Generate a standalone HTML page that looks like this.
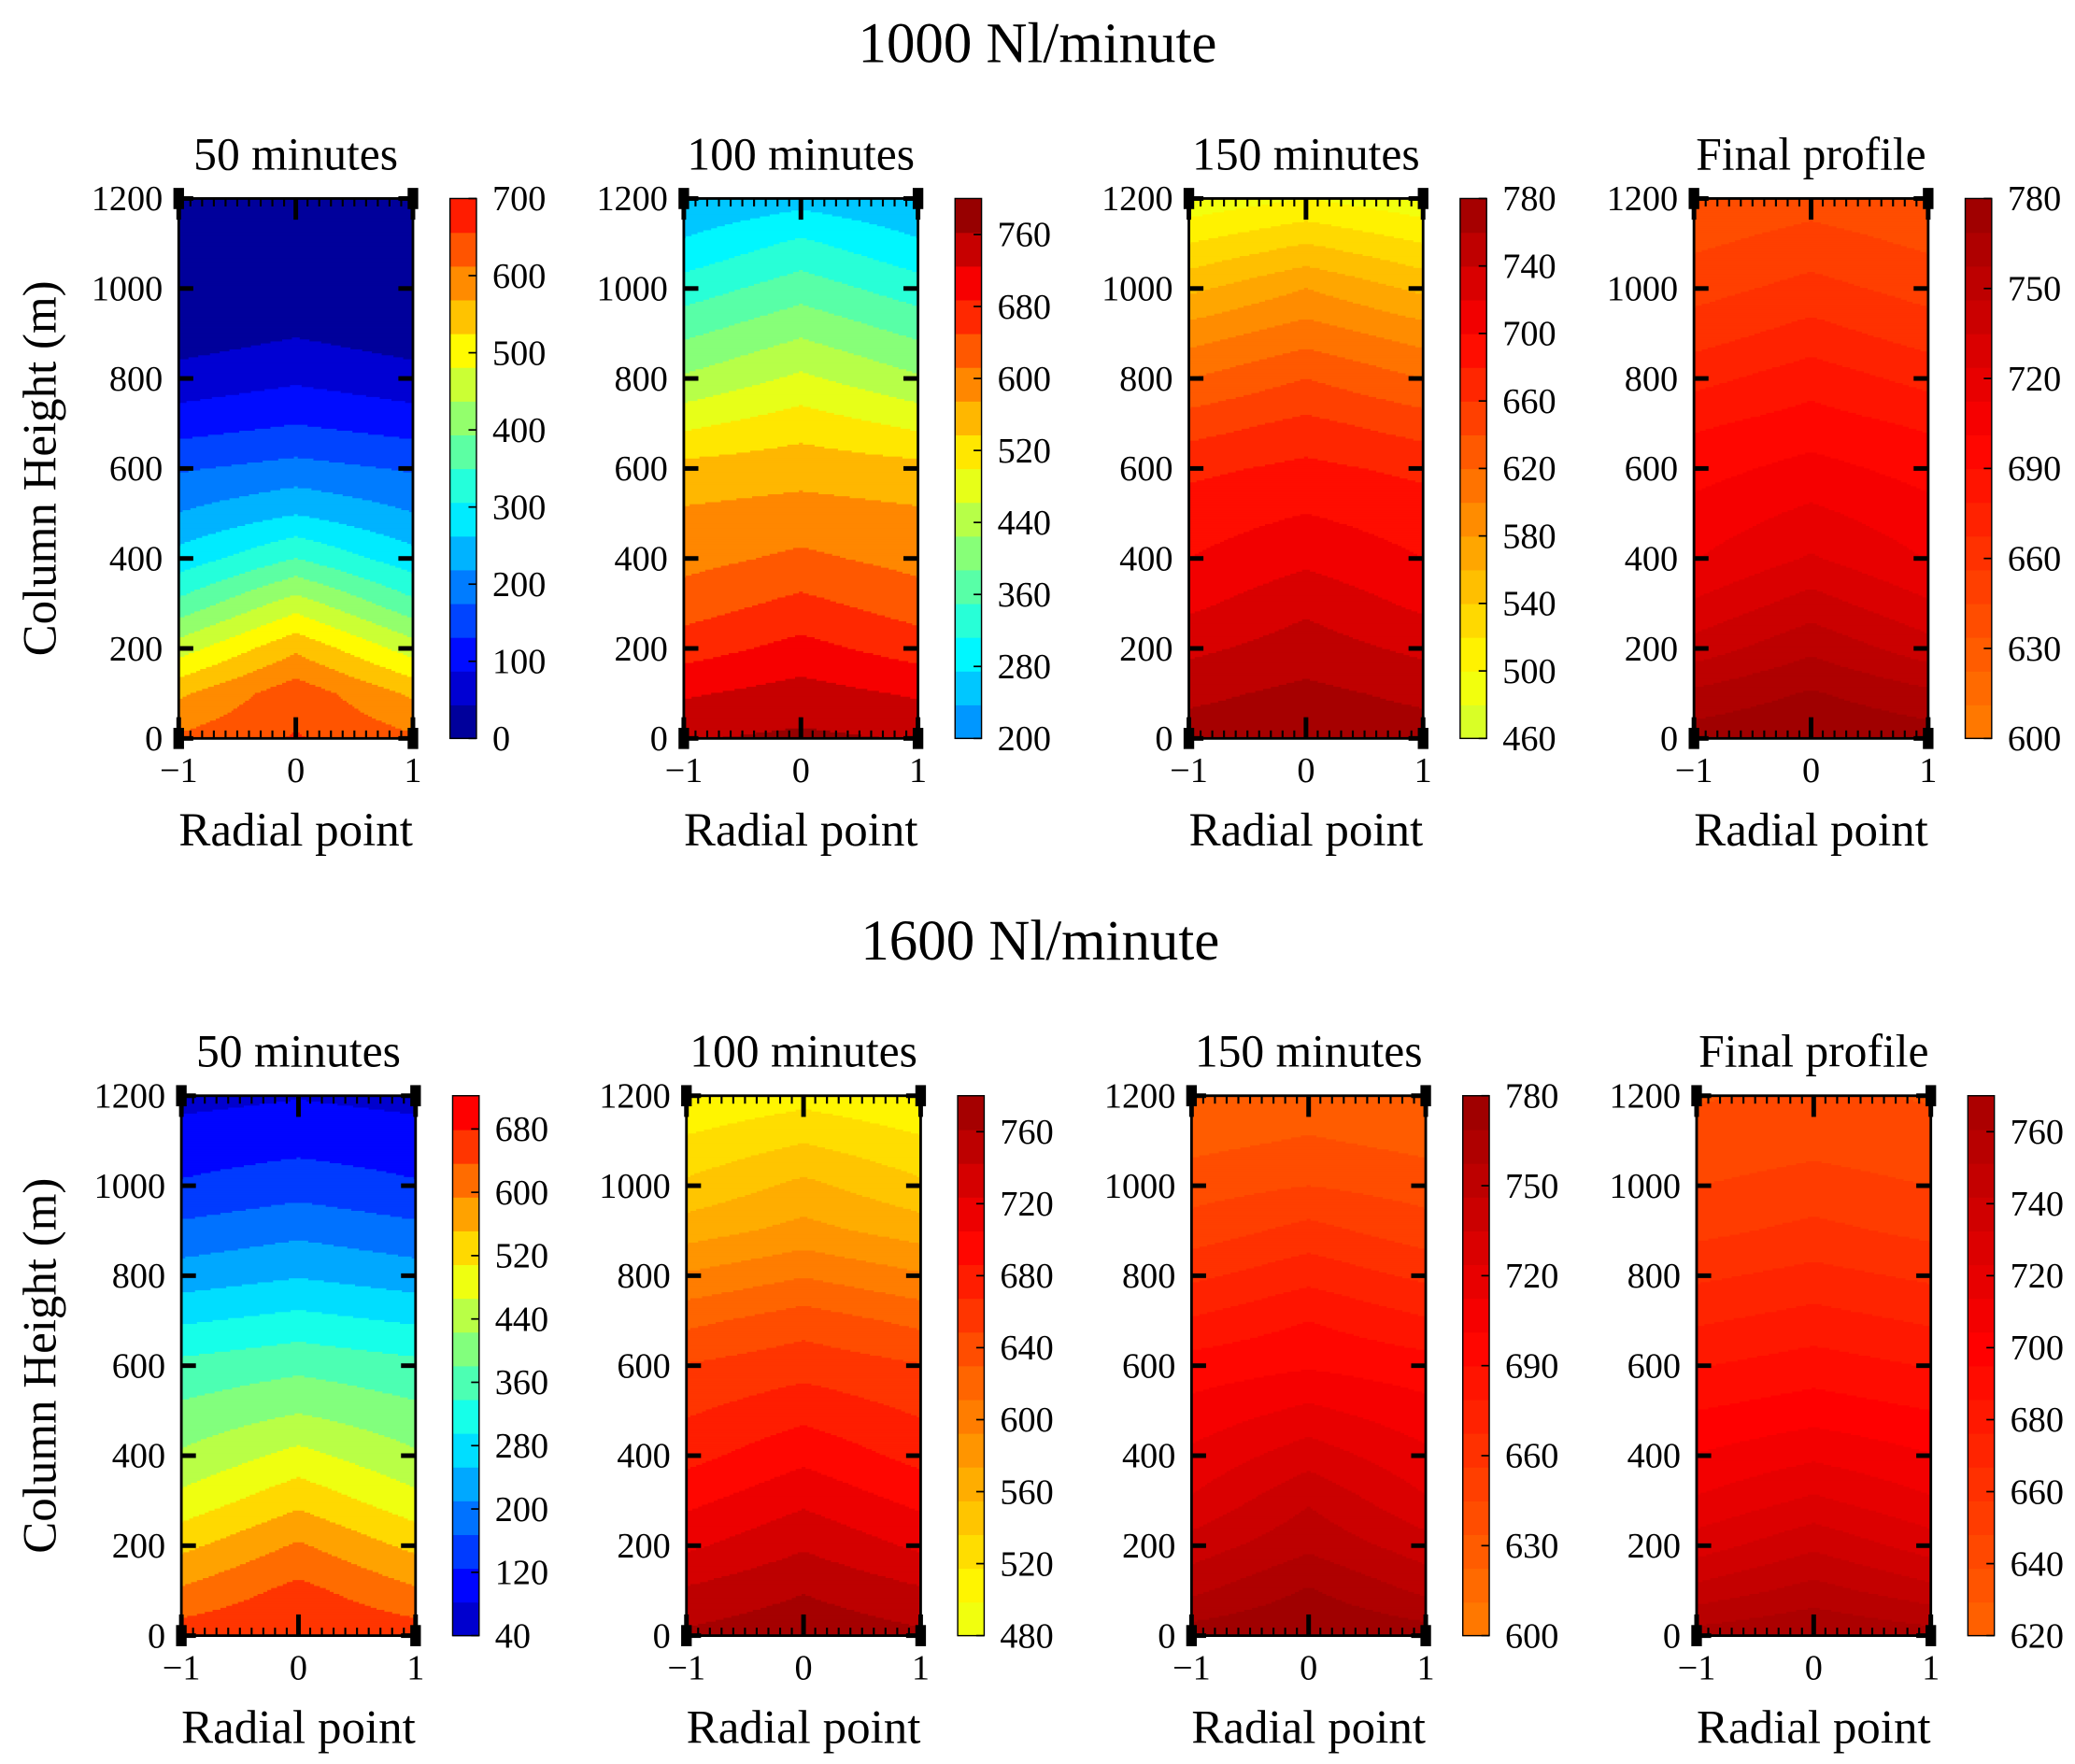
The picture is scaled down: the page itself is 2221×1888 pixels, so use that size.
<!DOCTYPE html>
<html><head><meta charset="utf-8"><style>
html,body{margin:0;padding:0;background:#fff;}
svg{display:block;}
text{font-family:"Liberation Serif",serif;fill:#000;}
</style></head><body>
<svg id="fig" width="2221" height="1888" viewBox="0 0 1568 1333" xmlns="http://www.w3.org/2000/svg">
<text x="784" y="47" font-size="43" text-anchor="middle">1000 Nl/minute</text>
<text x="786" y="725" font-size="43" text-anchor="middle">1600 Nl/minute</text>
</svg>
<script>
const heights=[0,100,200,300,400,500,600,700,800,900,1000,1100,1200];
const r1p1Center=[660,640,560,460,350,260,190,130,80,40,10,0,0];
const r1p1Edge=[620,560,460,360,280,220,170,110,60,20,5,0,0];
const r1p2Center=[770,740,700,660,620,590,560,520,470,420,370,320,260];
const r1p2Edge=[760,720,670,630,600,580,550,490,430,380,330,280,240];
const r1p3Center=[775,765,750,735,715,700,685,665,640,610,580,540,500];
const r1p3Edge=[770,755,735,715,700,690,675,650,620,590,555,520,485];
const r1p4Center=[780,770,755,740,725,715,705,695,685,672,660,650,640];
const r1p4Edge=[775,760,740,725,712,705,697,688,675,662,652,643,635];
const r2p1Center=[680,650,600,540,480,420,370,310,250,200,150,110,80];
const r2p1Edge=[660,600,540,480,430,390,350,290,230,180,130,100,70];
const r2p2Center=[775,760,740,720,700,680,660,640,610,580,560,535,510];
const r2p2Edge=[765,745,720,700,680,665,650,625,595,565,540,520,500];
const r2p3Center=[780,770,755,745,730,715,700,690,675,660,645,635,625];
const r2p3Edge=[775,755,740,725,715,705,695,680,665,650,640,630,622];
const r2p4Center=[770,755,740,725,712,700,690,680,670,660,652,645,640];
const r2p4Edge=[765,745,728,715,705,695,685,675,665,655,648,642,638];
const r1p1Ticks=[0,100,200,300,400,500,600,700];
const r1p2Ticks=[200,280,360,440,520,600,680,760];
const r1p3Ticks=[460,500,540,580,620,660,700,740,780];
const r1p4Ticks=[600,630,660,690,720,750,780];
const r2p1Ticks=[40,120,200,280,360,440,520,600,680];
const r2p2Ticks=[480,520,560,600,640,680,720,760];
const r2p3Ticks=[600,630,660,690,720,750,780];
const r2p4Ticks=[620,640,660,680,700,720,740,760];
const cbMins=[0,200,460,600,40,480,600,620];
const cbMaxs=[700,800,780,780,722,780,780,770];
const yTicks=[0,200,400,600,800,1000,1200];
const xTicks=[-1,0,1];
const subTitles=["50 minutes","100 minutes","150 minutes","Final profile"];

const NS="http://www.w3.org/2000/svg";
const svg=document.getElementById('fig');
function el(tag,attrs,parent){const e=document.createElementNS(NS,tag);for(const k in attrs)e.setAttribute(k,attrs[k]);(parent||svg).appendChild(e);return e;}
function jet(t){t=Math.max(0,Math.min(1,t));
 const r=Math.max(0,Math.min(1,Math.min(4*t-1.5,-4*t+4.5)));
 const g=Math.max(0,Math.min(1,Math.min(4*t-0.5,-4*t+3.5)));
 const b=Math.max(0,Math.min(1,Math.min(4*t+0.5,-4*t+2.5)));
 return `rgb(${Math.round(r*255)},${Math.round(g*255)},${Math.round(b*255)})`;}
const GMAX=800;
const NLEV=16;
const centers=[r1p1Center,r1p2Center,r1p3Center,r1p4Center,r2p1Center,r2p2Center,r2p3Center,r2p4Center];
const edges=[r1p1Edge,r1p2Edge,r1p3Edge,r1p4Edge,r2p1Edge,r2p2Edge,r2p3Edge,r2p4Edge];
const ticksAll=[r1p1Ticks,r1p2Ticks,r1p3Ticks,r1p4Ticks,r2p1Ticks,r2p2Ticks,r2p3Ticks,r2p4Ticks];
const W=177,H=408;
function interp(arr,z){const s=z/100;const i=Math.min(arr.length-2,Math.floor(s));const f=s-i;return arr[i]*(1-f)+arr[i+1]*f;}

for(let p=0;p<8;p++){
 const row=Math.floor(p/4),col=p%4;
 const x0=135+col*381.7+row*2, y0=150+row*678;
 const cbx=x0+205;
 const vmin=cbMins[p],vmax=cbMaxs[p];
 const step=(vmax-vmin)/NLEV;
 const g=el('g',{},svg);
 
 
 const bandColor=v=>{let k=Math.floor((v-vmin)/step);k=Math.max(0,Math.min(NLEV-1,k));return jet((vmin+(k+0.5)*step)/GMAX);};
 const NC=120,NR=272;
 const cw=W/NC,rh=H/NR;
 for(let j=0;j<NR;j++){
  const z=1200*(1-(j+0.5)/NR);
  const c=interp(centers[p],z),e=interp(edges[p],z);
  let runStart=0,runCol=null;
  for(let i=0;i<=NC;i++){
   let colr=null;
   if(i<NC){const r=Math.abs(-1+2*(i+0.5)/NC);colr=bandColor(c+(e-c)*r);}
   if(colr!==runCol){
    if(runCol!==null){const rc=el('rect',{x:x0+runStart*cw,y:y0+j*rh,width:(i-runStart)*cw+0.3,height:rh+0.3,fill:runCol},g);
     }
    runStart=i;runCol=colr;}
  }
 }
 const fr=el('rect',{x:x0,y:y0,width:W,height:H,fill:'none',stroke:'#000','stroke-width':2},g);
 
 yTicks.forEach(v=>{const y=y0+H-v/1200*H;
  el('line',{x1:x0,x2:x0+11,y1:y,y2:y,stroke:'#000','stroke-width':3.5},g);
  el('line',{x1:x0+W-11,x2:x0+W,y1:y,y2:y,stroke:'#000','stroke-width':3.5},g);
  const t=el('text',{x:x0-12,y:y+9,'font-size':27,'text-anchor':'end'},g);t.textContent=v;
  });
 for(let k=-10;k<=10;k++){const x=x0+(k/10+1)/2*W;
  el('line',{x1:x,x2:x,y1:y0,y2:y0+6,stroke:'#000','stroke-width':1.5},g);
  el('line',{x1:x,x2:x,y1:y0+H-6,y2:y0+H,stroke:'#000','stroke-width':1.5},g);}
 xTicks.forEach(v=>{const x=x0+(v+1)/2*W;
  el('line',{x1:x,x2:x,y1:y0,y2:y0+16,stroke:'#000','stroke-width':3.5},g);
  el('line',{x1:x,x2:x,y1:y0+H-16,y2:y0+H,stroke:'#000','stroke-width':3.5},g);
  const t=el('text',{x:x,y:y0+H+33,'font-size':27,'text-anchor':'middle'},g);t.textContent=v<0?'\u22121':String(v);
  });
 [[x0,y0],[x0+W,y0],[x0,y0+H],[x0+W,y0+H]].forEach(([cx,cy])=>{el('rect',{x:cx-4,y:cy-8,width:8,height:16,fill:'#000'},g);});
 const st=el('text',{x:x0+W/2,y:y0-22,'font-size':35,'text-anchor':'middle'},g);st.textContent=subTitles[col];
 
 const xl=el('text',{x:x0+W/2,y:y0+H+81,'font-size':36,'text-anchor':'middle'},g);xl.textContent='Radial point';
 
 if(col===0){const yl=el('text',{x:0,y:0,'font-size':36,'text-anchor':'middle',transform:`translate(42,${y0+H/2}) rotate(-90)`},g);
  yl.textContent='Column Height (m)';}
 const cb=el('g',{},svg);
 for(let k=0;k<NLEV;k++){const yb=y0+H-(k+1)/NLEV*H;
  el('rect',{x:cbx,y:yb,width:20,height:H/NLEV+0.5,fill:jet((vmin+(k+0.5)*step)/GMAX)},cb);}
 el('rect',{x:cbx,y:y0,width:20,height:H,fill:'none',stroke:'#000','stroke-width':1},cb);
 ticksAll[p].forEach(v=>{const y=y0+H-(v-vmin)/(vmax-vmin)*H;
  el('line',{x1:cbx+14,x2:cbx+20,y1:y,y2:y,stroke:'#000','stroke-width':1.2},cb);
  const t=el('text',{x:cbx+32,y:y+9,'font-size':27},cb);t.textContent=v;
  });
}
</script>
</body></html>
